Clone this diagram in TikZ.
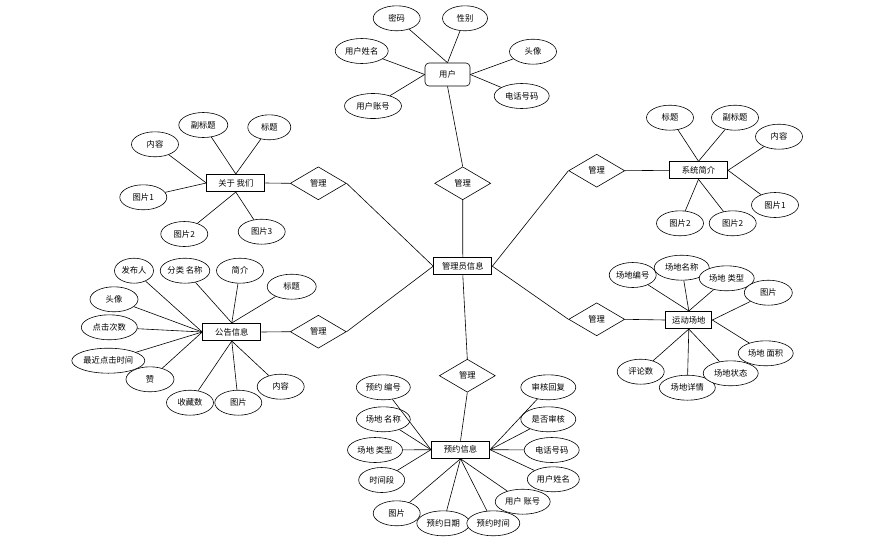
\documentclass[tikz,border=0pt]{standalone}
\usepackage{fontspec}
\newfontfamily\cjk{Noto Sans CJK SC}
\usetikzlibrary{shapes.geometric}

\begin{document}
\begin{tikzpicture}[x=1pt,y=-1pt,font=\cjk\fontsize{8.3}{9}\selectfont,line width=0.6pt]
            \tikzstyle{attr}=[ellipse,draw,fill=white,minimum width=47,minimum height=25,inner sep=0]
            \tikzstyle{wide}=[minimum width=55]
            \tikzstyle{entity}=[draw,line width=1.1pt,minimum width=58,minimum height=17,inner sep=0]
            \tikzstyle{rel}=[diamond,draw,minimum width=56,minimum height=33,inner sep=0]
            \useasboundingbox (0,0) rectangle (881,550);
            % entities
            \node[entity] (admin) at (462.8,266.2) {管理员信息};
            \node[draw,rounded corners=4,minimum width=45,minimum height=23,inner sep=0] (user) at (447.5,74.5) {用户};
            \node[entity] (about) at (235.8,183) {关于 我们};
            \node[entity] (notice) at (231.8,332) {公告信息};
            \node[entity] (intro) at (698.5,170.3) {系统简介};
            \node[entity,minimum width=46] (venue) at (688.8,320) {运动场地};
            \node[entity] (book) at (460.5,449.7) {预约信息};
            % relations
            \node[rel] (r1) at (462.7,183.3) {管理};
            \node[rel] (r2) at (318.3,183.3) {管理};
            \node[rel] (r3) at (318.3,331.7) {管理};
            \node[rel] (r4) at (596.7,170.7) {管理};
            \node[rel] (r5) at (596.7,319.3) {管理};
            \node[rel] (r6) at (467.3,375.7) {管理};
            % user
            \node[attr] (u1) at (396.7,18.3) {密码};
            \node[attr,minimum width=45] (u2) at (465,18.3) {性别};
            \node[attr,minimum width=53] (u3) at (361.7,51) {用户姓名};
            \node[attr] (u4) at (533,51.7) {头像};
            \node[attr,minimum width=57] (u5) at (373,106) {用户账号};
            \node[attr,wide] (u6) at (521.7,96) {电话号码};
            % about
            \node[attr] (a1) at (155,144.3) {内容};
            \node[attr,minimum width=49] (a2) at (203.3,125) {副标题};
            \node[attr,minimum width=43] (a3) at (269.3,127.3) {标题};
            \node[attr] (a4) at (143.3,197.3) {图片1};
            \node[attr] (a5) at (184.3,234) {图片2};
            \node[attr] (a6) at (261.7,231.7) {图片3};
            % notice
            \node[attr] (n12) at (238.3,402.7) {图片};
            \node[attr] (n11) at (190,402.7) {收藏数};
            \node[attr] (n13) at (280.7,386.7) {内容};
            \node[attr] (n2) at (185,270.7) {分类 名称};
            \node[attr,minimum width=39] (n1) at (134,270.7) {发布人};
            \node[attr] (n3) at (240,270.7) {简介};
            \node[attr,minimum width=49] (n4) at (291.7,286.7) {标题};
            \node[attr,minimum width=48] (n5) at (114,299.3) {头像};
            \node[attr,minimum width=56] (n6) at (109.3,327.3) {点击次数};
            \node[attr,minimum width=73] (n7) at (108.3,360.7) {最近点击时间};
            \node[attr,minimum width=48] (n8) at (150,379.3) {赞};
            % intro
            \node[attr] (i1) at (670,117.7) {标题};
            \node[attr] (i2) at (735,117.7) {副标题};
            \node[attr] (i3) at (779,136.7) {内容};
            \node[attr] (i4) at (775,205) {图片1};
            \node[attr] (i5) at (680,223.3) {图片2};
            \node[attr] (i6) at (732.7,223.3) {图片2};
            % venue
            \node[attr] (v1) at (632.7,275) {场地编号};
            \node[attr,wide] (v2) at (681.7,267.7) {场地名称};
            \node[attr,wide] (v3) at (726.7,278.3) {场地 类型};
            \node[attr,minimum width=48] (v4) at (768.3,292.7) {图片};
            \node[attr,wide] (v5) at (765.7,353.3) {场地 面积};
            \node[attr] (v8) at (640.7,371.7) {评论数};
            \node[attr,minimum width=56] (v7) at (687.3,387.7) {场地详情};
            \node[attr,wide] (v6) at (730.7,373.3) {场地状态};
            % booking
            \node[attr,minimum width=54] (b1) at (383.3,387.3) {预约 编号};
            \node[attr,minimum width=54] (b2) at (383.3,419.3) {场地 名称};
            \node[attr,wide] (b3) at (375,450) {场地 类型};
            \node[attr,minimum width=46] (b4) at (381.7,480) {时间段};
            \node[attr] (b5) at (396.7,513.3) {图片};
            \node[attr,minimum width=53] (b6) at (443.3,523.3) {预约日期};
            \node[attr,minimum width=53] (b7) at (493.3,523.3) {预约时间};
            \node[attr,wide] (b8) at (522.7,501.7) {用户 账号};
            \node[attr,minimum width=52] (b9) at (553.3,479.3) {用户姓名};
            \node[attr,wide] (b10) at (551.7,450) {电话号码};
            \node[attr,wide] (b11) at (548.3,419.3) {是否审核};
            \node[attr,wide] (b12) at (548.3,387.3) {审核回复};
            % connectors
            \foreach \a/\b in {admin.north/r1.south,admin.west/r2.east,admin.west/r3.east,admin.east/r4.west,
                admin.east/r5.west,admin.south/r6.north,user.south/r1.north,r2.west/about.east,r3.west/notice.east,
                r4.east/intro.west,r5.east/venue.west,r6.south/book.north}
              \draw (\a) -- (\b);
            \foreach \a/\b in {u1/north,u2/north,u3/west,u5/west,u4/east,u6/east}
              \draw (\a) -- (user.\b);
            \foreach \a/\b in {a1/west,a4/west,a2/north,a3/north,a5/south,a6/south}
              \draw (\a) -- (about.\b);
            \foreach \a/\b in {n1/west,n5/west,n6/west,n7/west,n8/west,n2/north,n3/north,n4/north,n11/south,n12/south,n13/south}
              \draw (\a) -- (notice.\b);
            \foreach \a/\b in {i1/north,i2/north,i3/east,i4/east,i5/south,i6/south}
              \draw (\a) -- (intro.\b);
            \foreach \a/\b in {v1/north,v2/north,v3/north,v4/east,v5/east,v6/south,v7/south,v8/south}
              \draw (\a) -- (venue.\b);
            \foreach \a/\b in {b1/west,b2/west,b3/west,b4/west,b9/east,b10/east,b11/east,b12/east,b5/south,b6/south,b7/south,b8/south}
              \draw (\a) -- (book.\b);
\end{tikzpicture}
\end{document}
